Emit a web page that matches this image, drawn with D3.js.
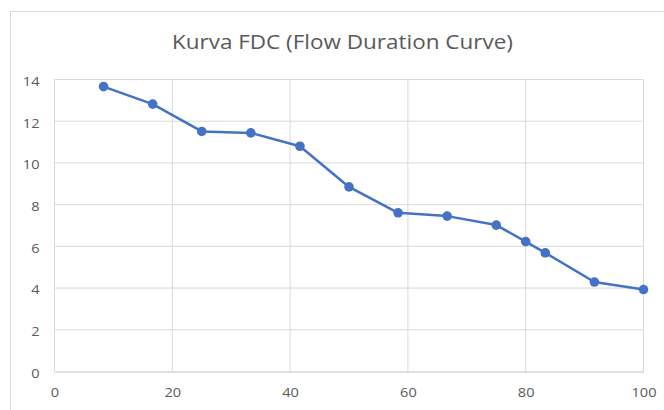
<!DOCTYPE html>
<html>
<head>
<meta charset="utf-8">
<script src="https://cdn.jsdelivr.net/npm/d3@7"></script>
<style>
  html, body { margin: 0; padding: 0; background: #fff; }
  svg { display: block; }
</style>
</head>
<body>
<svg id="chart" width="664" height="410"></svg>
<script>
const title = "Kurva FDC (Flow Duration Curve)";
const xValues = [8.33, 16.67, 25, 33.33, 41.67, 50, 58.33, 66.67, 75, 80, 83.33, 91.67, 100];
const yValues = [13.66, 12.82, 11.51, 11.44, 10.80, 8.85, 7.61, 7.45, 7.02, 6.23, 5.69, 4.29, 3.93];
const xTicks = [0, 20, 40, 60, 80, 100];
const yTicks = [0, 2, 4, 6, 8, 10, 12, 14];

const svg = d3.select("#chart");
const font = "Open Sans, Noto Sans, sans-serif";
const textColor = "#595959";
const labelSize = 12.8, labelStretch = 1.14;

// chart area border (extends past right/bottom)
svg.append("rect").attr("x", 10.5).attr("y", 11.5).attr("width", 700).attr("height", 500)
  .attr("fill", "#fff").attr("stroke", "#d9d9d9").attr("stroke-width", 1);

const x = d3.scaleLinear().domain([0, 100]).range([54.5, 643.5]);
const y = d3.scaleLinear().domain([0, 14]).range([371.5, 79.5]);

// gridlines
const grid = svg.append("g");
grid.selectAll("line.h").data(yTicks.filter(d => d > 0)).join("line")
  .attr("x1", x(0)).attr("x2", x(100)).attr("y1", d => y(d)).attr("y2", d => y(d))
  .attr("stroke", "#d9d9d9").attr("stroke-width", 1);
grid.selectAll("line.v").data(xTicks).join("line")
  .attr("y1", y(0)).attr("y2", y(14)).attr("x1", d => x(d)).attr("x2", d => x(d))
  .attr("stroke", "#d9d9d9").attr("stroke-width", 1);

// x axis
const xAxis = d3.axisBottom(x).tickValues(xTicks).tickSize(0).tickPadding(0);
const gx = svg.append("g").attr("transform", `translate(0,${y(0)})`).call(xAxis);
gx.select(".domain").attr("stroke", "#bfbfbf");
gx.selectAll(".tick text")
  .attr("y", 0).attr("dy", null)
  .attr("transform", `translate(0,${397 - y(0)}) scale(${labelStretch},1)`)
  .attr("fill", textColor).style("font-family", font).style("font-size", labelSize + "px");

// y axis
const yAxis = d3.axisLeft(y).tickValues(yTicks).tickSize(0).tickPadding(0);
const gy = svg.append("g").attr("transform", `translate(${x(0)},0)`).call(yAxis);
gy.select(".domain").remove();
gy.selectAll(".tick text")
  .attr("x", 0).attr("dy", null)
  .attr("transform", `translate(${39.5 - x(0)},5.8) scale(${labelStretch},1)`)
  .attr("fill", textColor).style("font-family", font).style("font-size", labelSize + "px");

// line
const pts = xValues.map((v, i) => [v, yValues[i]]);
svg.append("path").datum(pts)
  .attr("fill", "none").attr("stroke", "#4472C4").attr("stroke-width", 2.5)
  .attr("stroke-linejoin", "round")
  .attr("d", d3.line().x(d => x(d[0])).y(d => y(d[1])));

svg.selectAll("circle.pt").data(pts).join("circle")
  .attr("class", "pt")
  .attr("cx", d => x(d[0])).attr("cy", d => y(d[1])).attr("r", 4.8)
  .attr("fill", "#4472C4");

// title
const t = svg.append("text").attr("x", 0).attr("y", 0)
  .attr("text-anchor", "middle").attr("fill", textColor)
  .style("font-family", font).style("font-size", "19.6px").text(title);
const w = t.node().getComputedTextLength();
t.attr("transform", `translate(342.4,48.5) scale(${(341 / w).toFixed(4)},1)`);
</script>
</body>
</html>
